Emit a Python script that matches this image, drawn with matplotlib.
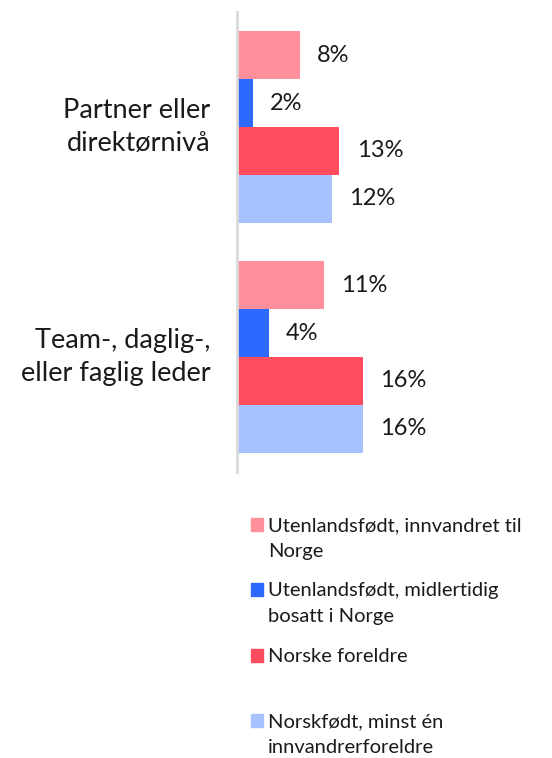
import matplotlib.pyplot as plt
from matplotlib.patches import Rectangle

plt.rcParams['font.family'] = ['Lato', 'DejaVu Sans']

# data
kategorier = ['Partner eller\ndirektørnivå', 'Team-, daglig-,\neller faglig leder']
serier = ['Utenlandsfødt, innvandret til\nNorge',
          'Utenlandsfødt, midlertidig\nbosatt i Norge',
          'Norske foreldre',
          'Norskfødt, minst én\ninnvandrerforeldre']
verdier = [[8, 11],
           [2, 4],
           [13, 16],
           [12, 16]]
farger = ['#FF8F9A', '#2D69FF', '#FF4D5E', '#A8C2FF']

tekstfarge = '#1a1a1a'

fig = plt.figure(figsize=(5.52, 7.58), dpi=100)
ax = fig.add_axes([237/552, 1 - 472/758, 315/552, 460/758])

h = 0.208
for i, (navn, vals, farge) in enumerate(zip(serier, verdier, farger)):
    pos = [k + (i - 1.5) * h for k in range(len(kategorier))]
    bars = ax.barh(pos, vals, height=h, color=farge)
    for b, v in zip(bars, vals):
        ax.text(v + 2.2, b.get_y() + h / 2, f'{v}%', va='center', ha='left',
                fontsize=17, color=tekstfarge)

ax.set_xlim(0, 40)
ax.set_ylim(1.5, -0.5)
ax.set_yticks([])
ax.set_xticks([])
# kategorietiketter som egen tekst, høyrejustert litt til venstre for aksen
for k, kat in enumerate(kategorier):
    ax.text(-3.4, k, kat, ha='right', va='center', multialignment='right',
            fontsize=19.5, color=tekstfarge, linespacing=1.4, clip_on=False)
for s in ['top', 'right', 'bottom']:
    ax.spines[s].set_visible(False)
ax.spines['left'].set_color('#d9d9d9')
ax.spines['left'].set_linewidth(2)

# legend drawn by hand: square at the first line, one text per line
leg_y = [531, 596, 662, 727]   # baseline of first line, px from top
radavstand = 26
for navn, farge, y in zip(serier, farger, leg_y):
    fig.patches.append(Rectangle((251/552, 1 - y/758), 12/552, 13/758,
                                 transform=fig.transFigure, color=farge))
    for j, linje in enumerate(navn.split('\n')):
        fig.text(268/552, 1 - (y + j * radavstand)/758, linje, fontsize=14.5,
                 color=tekstfarge, va='baseline', ha='left')

fig.savefig('out.png', dpi=100)
